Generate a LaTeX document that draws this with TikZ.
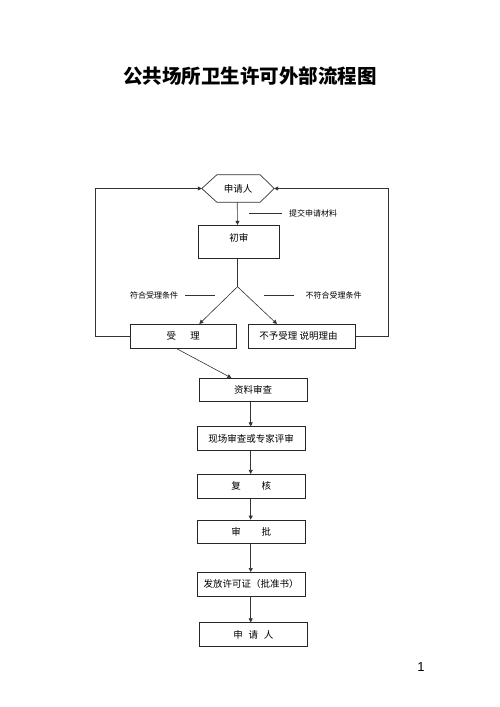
\documentclass[tikz,border=0pt]{standalone}
\usepackage{fontspec}
\newfontfamily\cjk{Noto Sans CJK SC}
\setmainfont{Liberation Sans}
\usetikzlibrary{arrows.meta,calc}
\begin{document}
\begin{tikzpicture}[x=1pt,y=-1pt,
  box/.style={draw=black!85, line width=0.7pt, inner sep=0pt, font=\cjk\fontsize{9.5}{11}\selectfont},
  lbl/.style={inner sep=0pt, font=\cjk\fontsize{8}{10}\selectfont},
  ln/.style={draw=black!80, line width=0.6pt},
  arr/.style={ln, -{Triangle[length=4pt,width=4pt]}}]
\useasboundingbox (0,0) rectangle (500,707);
\node[font=\cjk\bfseries\fontsize{19.5}{21}\selectfont, inner sep=0pt] (title) at (250,76) {公共场所卫生许可外部流程图};
% hexagon
\node[inner sep=0pt, minimum width=72, minimum height=27, font=\cjk\fontsize{9.5}{11}\selectfont] (hex) at (238,188.5) {申请人};
\draw[ln, line width=0.7pt] (hex.west) -- ([xshift=15]hex.north west) -- ([xshift=-14]hex.north east) -- (hex.east) -- ([xshift=-14]hex.south east) -- ([xshift=15]hex.south west) -- cycle;
\node[box, minimum width=81, minimum height=33, label={[font=\cjk\fontsize{9.5}{11}\selectfont, anchor=north, yshift=-5]north:初审}] (chushen) at (238.8,241.7) {};
\draw[arr] ([xshift=-0.8]hex.south) -- ([xshift=-1.3]chushen.north);
\node[lbl, anchor=west] (l1) at (289,213) {提交申请材料};
\draw[ln] ([xshift=-7]l1.west) -- ([xshift=-40]l1.west);
% junction
\coordinate (j) at (237.5,286.7);
\draw[ln] ([xshift=-1.3]chushen.south) -- (j);
\node[box, minimum width=106.7, minimum height=24] (shouli) at (183.3,336.3) {受\hspace{1.5em}理};
\node[box, minimum width=107, minimum height=24] (buyu) at (301.8,336.3) {\hspace{-0.7em}不予受理\ 说明理由};
\draw[arr] (j) -- ([xshift=-37.7]shouli.north east);
\draw[arr] (j) -- ([xshift=29]buyu.north west);
\node[lbl] (l2) at (154,295) {符合受理条件};
\draw[ln] ([xshift=7]l2.east) -- ([xshift=37]l2.east);
\node[lbl] (l3) at (333.5,295) {不符合受理条件};
\draw[ln] ([xshift=-11]l3.west) -- ([xshift=-41]l3.west);
% loops
\draw[arr] (shouli.west) -- ++(-34.3,0) |- (hex.west);
\draw[arr] (buyu.east) -- ++(32.7,0) |- (hex.east);
% main chain
\node[box, minimum width=107.7, minimum height=23.4] (ziliao) at (253.2,390) {资料审查};
\draw[arr] ([xshift=-6.6]shouli.south) -- ([xshift=32.4]ziliao.north west);
\node[box, minimum width=107.7, minimum height=24] (xianchang) at (251.2,438.7) {现场审查或专家评审};
\node[box, minimum width=107.7, minimum height=24] (fuhe) at (251.2,486.3) {复\hspace{2.2em}核};
\node[box, minimum width=107.7, minimum height=23.3] (shenpi) at (251.2,531.7) {审\hspace{2.2em}批};
\node[box, minimum width=107.7, minimum height=23.7] (fafang) at (251.2,584.2) {发放许可证（批准书）};
\node[box, minimum width=108, minimum height=24] (shenqing) at (253.3,634.7) {申\hspace{0.6em}请\hspace{0.6em}人};
\draw[arr] ([xshift=-2.5]ziliao.south) -- ([xshift=-0.5]xianchang.north);
\draw[arr] ([xshift=-0.5]xianchang.south) -- ([xshift=-0.5]fuhe.north);
\draw[arr] ([xshift=-0.5]fuhe.south) -- ([xshift=-0.5]shenpi.north);
\draw[arr] ([xshift=-0.5]shenpi.south) -- ([xshift=-0.5]fafang.north);
\draw[arr] ([xshift=-0.5]fafang.south) -- ([xshift=-2.6]shenqing.north);
\node[font=\fontsize{13}{15}\selectfont, inner sep=0pt] (pg) at (421,667) {1};
\end{tikzpicture}
\end{document}
